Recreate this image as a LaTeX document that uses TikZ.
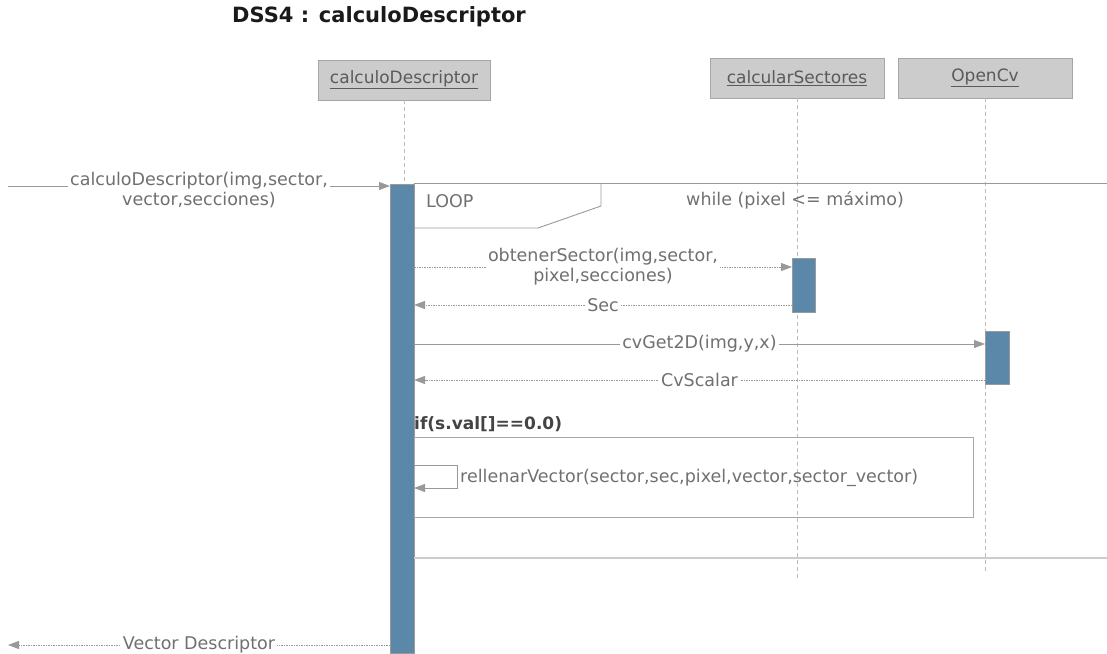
\documentclass[tikz,border=0pt]{standalone}
\usepackage{fontspec}
\setmainfont{DejaVu Sans}
\usetikzlibrary{arrows.meta}
\definecolor{txt}{HTML}{707070}
\definecolor{hdrtxt}{HTML}{5A5A5A}
\definecolor{hdrfill}{HTML}{CCCCCC}
\definecolor{hdrline}{HTML}{A6A6A6}
\definecolor{barfill}{HTML}{5B87A8}
\definecolor{barline}{HTML}{9A9A9A}
\definecolor{ln}{HTML}{999999}
\definecolor{lifeln}{HTML}{BBBBBB}
\definecolor{botln}{HTML}{CCCCCC}
\definecolor{titletxt}{HTML}{1A1A1A}
\definecolor{iftxt}{HTML}{444444}
\begin{document}
\begin{tikzpicture}[x=1pt,y=-1pt,
  every node/.style={font=\fontsize{17.5}{20}\selectfont, text=txt, inner sep=1pt},
  hdr/.style={draw=hdrline, fill=hdrfill, minimum width=174pt, minimum height=40pt, text=hdrtxt, line width=0.8pt, font=\fontsize{17}{20}\selectfont},
  actbar/.style={draw=barline, fill=barfill, inner sep=0pt, outer sep=0pt, line width=0.6pt},
  lifeline/.style={draw=lifeln, line width=0.8pt, dash pattern=on 4pt off 3pt},
  msg/.style={draw=ln, line width=0.9pt, -{Triangle[length=11pt,width=8pt]}},
  rmsg/.style={msg, dash pattern=on 1.5pt off 1pt},
  lbl/.style={fill=white, align=center, inner sep=2pt},
  frameln/.style={draw=ln, line width=0.9pt}
]
\useasboundingbox (0,0) rectangle (1107,653);
% title
\node[font=\fontsize{21}{24}\bfseries, text=titletxt] (title) at (379,17) {DSS4 : calculoDescriptor};
% headers
\node[hdr, minimum width=172pt] (h1) at (404,80) {\underline{calculoDescriptor}};
\node[hdr] (h2) at (797,78) {\underline{calcularSectores}};
\node[hdr] (h3) at (985,78) {\underline{OpenCv}};
% lifelines
\coordinate (l2end) at (797,580);
\coordinate (l3end) at (985,574);
\coordinate (l1end) at (404,184);
\draw[lifeline] (h1.south) -- (l1end);
\draw[lifeline] (h2.south) -- (l2end);
\draw[lifeline] (h3.south) -- (l3end);
% activation bars
\node[actbar, anchor=north west, minimum width=24pt, minimum height=469pt] (bar1) at (390,184) {};
\node[actbar, anchor=north west, minimum width=23pt, minimum height=54pt] (bar2) at (792,258) {};
\node[actbar, anchor=north west, minimum width=24pt, minimum height=53pt] (bar3) at (985,331) {};
% loop frame
\coordinate (lpA) at (414,183);
\coordinate (lpB) at (1107,183);
\draw[frameln] (lpA) -- (lpB);
\coordinate (pgA) at (601,183);
\coordinate (pgB) at (601,206);
\coordinate (pgC) at (538,228);
\coordinate (pgD) at (414,228);
\draw[frameln] (pgA) -- (pgB) -- (pgC) -- (pgD);
\node[anchor=west] (loop) at (425,201) {LOOP};
\node[anchor=west] (cond) at (685,200) {while (pixel <= máximo)};
\coordinate (lbA) at (414,558);
\coordinate (lbB) at (1107,558);
\draw[draw=botln, line width=2pt] (lbA) -- (lbB);
% incoming message
\coordinate (src) at (8,186);
\draw[msg] (src) -- (bar1.west |- src) node[lbl, midway, yshift=-4pt] {calculoDescriptor(img,sector,\\vector,secciones)};
% obtenerSector
\coordinate (m1) at (414,267);
\draw[rmsg] (m1) -- (bar2.west |- m1) node[lbl, midway] {obtenerSector(img,sector,\\pixel,secciones)};
\coordinate (m2) at (792,305);
\draw[rmsg] (m2) -- (bar1.east |- m2) node[lbl, midway] {Sec};
% cvGet2D
\coordinate (m3) at (414,344);
\draw[msg] (m3) -- (bar3.west |- m3) node[lbl, midway] {cvGet2D(img,y,x)};
\coordinate (m4) at (985,380);
\draw[rmsg] (m4) -- (bar1.east |- m4) node[lbl, midway] {CvScalar};
% if fragment
\node[anchor=west, font=\fontsize{17}{20}\bfseries, text=iftxt, inner sep=0pt] (iflbl) at (414,424) {if(s.val[]==0.0)};
\coordinate (ifA) at (414,437);
\coordinate (ifB) at (973,517);
\draw[frameln, draw=ln!85] (ifA) rectangle (ifB);
% self message
\coordinate (s1) at (414,465);
\coordinate (s2) at (457,465);
\coordinate (s3) at (457,488);
\coordinate (s4) at (414,488);
\draw[msg] (s1) -- (s2) -- (s3) -- (s4);
\node[anchor=west] (selflbl) at (459,478) {rellenarVector(sector,sec,pixel,vector,sector\_vector)};
% return to caller
\coordinate (vd) at (8,645);
\draw[rmsg] (bar1.west |- vd) -- (vd) node[lbl, midway] {Vector Descriptor};
\end{tikzpicture}
\end{document}
